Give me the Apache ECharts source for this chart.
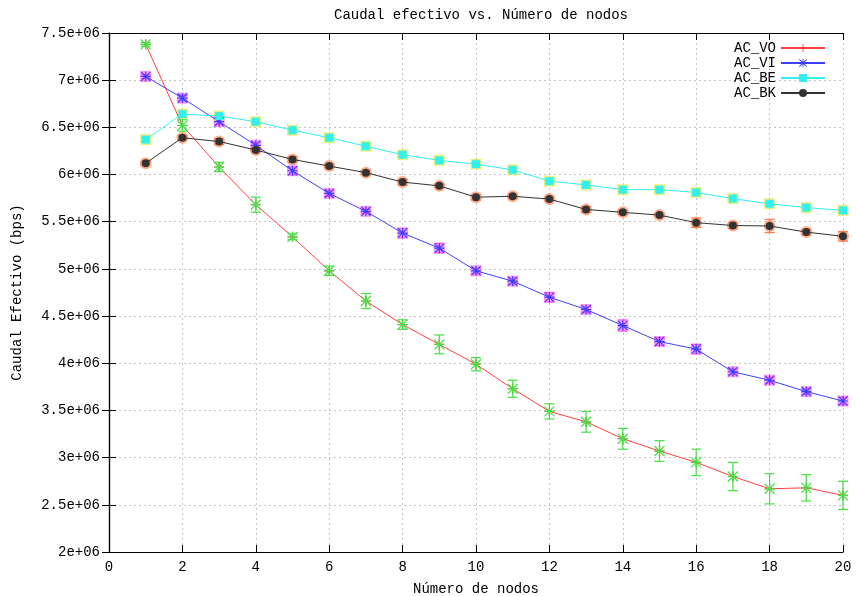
<!DOCTYPE html>
<html>
<head>
<meta charset="utf-8">
<script src="https://cdn.jsdelivr.net/npm/echarts@6/dist/echarts.min.js"></script>
<style>
  html, body { margin: 0; padding: 0; background: #fff; }
  #caudal_chart { width: 857px; height: 596px; }
</style>
</head>
<body>
<div id="caudal_chart"></div>
<script>
// numero de nodos
const nodos = [1, 2, 3, 4, 5, 6, 7, 8, 9, 10, 11, 12, 13, 14, 15, 16, 17, 18, 19, 20];

// caudal efectivo (bps) por categoria de acceso, con su error
const acVO = [7380000, 6520000, 6080000, 5680000, 5340000, 4980000, 4660000, 4410000, 4200000, 3990000,
              3730000, 3490000, 3380000, 3200000, 3070000, 2950000, 2800000, 2670000, 2680000, 2600000];
const acVOErr = [20000, 60000, 50000, 80000, 30000, 50000, 80000, 50000, 100000, 70000,
                 90000, 80000, 110000, 110000, 110000, 140000, 150000, 160000, 140000, 150000];

const acVI = [7040000, 6810000, 6560000, 6310000, 6040000, 5800000, 5610000, 5380000, 5220000, 4980000,
              4870000, 4700000, 4570000, 4400000, 4230000, 4150000, 3910000, 3820000, 3700000, 3600000];
const acVIErr = [20000, 30000, 30000, 30000, 40000, 30000, 20000, 50000, 50000, 30000,
                 30000, 50000, 30000, 60000, 40000, 50000, 30000, 30000, 30000, 40000];

const acBE = [6370000, 6640000, 6620000, 6560000, 6470000, 6390000, 6300000, 6210000, 6150000, 6110000,
              6050000, 5930000, 5890000, 5840000, 5840000, 5810000, 5745000, 5690000, 5650000, 5620000];
const acBEErr = [20000, 30000, 20000, 20000, 20000, 20000, 20000, 20000, 20000, 20000,
                 20000, 20000, 20000, 20000, 20000, 30000, 20000, 20000, 20000, 20000];

const acBK = [6120000, 6390000, 6350000, 6260000, 6160000, 6090000, 6020000, 5920000, 5880000, 5760000,
              5770000, 5740000, 5630000, 5600000, 5570000, 5490000, 5460000, 5455000, 5390000, 5345000];
const acBKErr = [20000, 20000, 30000, 20000, 30000, 20000, 20000, 30000, 20000, 30000,
                 20000, 20000, 30000, 20000, 20000, 50000, 30000, 70000, 30000, 50000];

const FONT = 'Liberation Mono';
const PLUS = 'path://M4.4,0H5.6V10H4.4ZM0,4.4H10V5.6H0Z';
const STAR = 'path://M4.4,0H5.6V10H4.4ZM0,4.4H10V5.6H0ZM0.8,0L10,9.2L9.2,10L0,0.8ZM9.2,0L10,0.8L0.8,10L0,9.2Z';

function pairs(vals, errs) {
  return nodos.map((n, i) => errs ? [n, vals[i], errs[i]] : [n, vals[i]]);
}

// barras de error + punto, como gnuplot "with yerrorbars"
function errorSeries(name, vals, errs, color, mark, z) {
  return {
    name: name + '_err',
    type: 'custom',
    z: z,
    silent: true,
    data: pairs(vals, errs),
    renderItem: function (params, api) {
      const x = api.value(0), y = api.value(1), e = api.value(2);
      const lo = api.coord([x, y - e]);
      const hi = api.coord([x, y + e]);
      const c = api.coord([x, y]);
      const st = { stroke: color, lineWidth: 1.2, fill: null };
      const kids = [
        { type: 'line', shape: { x1: lo[0], y1: lo[1], x2: hi[0], y2: hi[1] }, style: st },
        { type: 'line', shape: { x1: lo[0] - 5, y1: lo[1], x2: lo[0] + 5, y2: lo[1] }, style: st },
        { type: 'line', shape: { x1: hi[0] - 5, y1: hi[1], x2: hi[0] + 5, y2: hi[1] }, style: st }
      ];
      if (mark === 'star') {
        const r = 5;
        kids.push(
          { type: 'line', shape: { x1: c[0] - r, y1: c[1], x2: c[0] + r, y2: c[1] }, style: st },
          { type: 'line', shape: { x1: c[0], y1: c[1] - r, x2: c[0], y2: c[1] + r }, style: st },
          { type: 'line', shape: { x1: c[0] - r, y1: c[1] - r, x2: c[0] + r, y2: c[1] + r }, style: st },
          { type: 'line', shape: { x1: c[0] - r, y1: c[1] + r, x2: c[0] + r, y2: c[1] - r }, style: st }
        );
      } else if (mark === 'square') {
        kids.push({ type: 'rect', shape: { x: c[0] - 5.5, y: c[1] - 5.5, width: 11, height: 11 },
                    style: { fill: color, opacity: 0.6 } });
      } else if (mark === 'circle') {
        kids.push({ type: 'circle', shape: { cx: c[0], cy: c[1], r: 6 },
                    style: { fill: color, opacity: 0.6 } });
      }
      return { type: 'group', children: kids };
    }
  };
}

function lineSeries(name, vals, color, symbol, size, z) {
  return {
    name: name,
    type: 'line',
    z: z,
    data: pairs(vals),
    symbol: symbol,
    symbolSize: size,
    showAllSymbol: true,
    lineStyle: { color: color, width: 1 },
    itemStyle: { color: color },
    emphasis: { disabled: true },
    animation: false
  };
}

const chart = echarts.init(document.getElementById('caudal_chart'));

const axisCommon = {
  type: 'value',
  axisLine: { show: true, lineStyle: { color: '#000', width: 1.2 } },
  axisTick: { show: true, inside: true, length: 7, lineStyle: { color: '#000' } },
  axisLabel: { color: '#000', fontFamily: FONT, fontSize: 14 }
};
const gridLine = { show: true, lineStyle: { color: '#c4c4c4', type: [2, 3], width: 1 } };

chart.setOption({
  animation: false,
  backgroundColor: '#fff',
  title: {
    text: 'Caudal efectivo vs. Número de nodos',
    left: 476,
    textAlign: 'center',
    top: 3,
    textStyle: { fontFamily: FONT, fontSize: 14, fontWeight: 'normal', color: '#000' }
  },
  legend: {
    orient: 'vertical',
    right: 31,
    top: 41,
    padding: 0,
    align: 'right',
    itemWidth: 44,
    itemHeight: 10,
    itemGap: 1,
    selectedMode: false,
    data: ['AC_VO', 'AC_VI', 'AC_BE', 'AC_BK'],
    textStyle: { fontFamily: FONT, fontSize: 14, color: '#000', lineHeight: 14 }
  },
  grid: { left: 109, right: 14, top: 33, bottom: 44, containLabel: false, outerBoundsMode: 'none' },
  xAxis: [
    Object.assign({}, axisCommon, {
      min: 0, max: 20, interval: 2,
      name: 'Número de nodos',
      nameLocation: 'middle',
      nameGap: 30,
      nameTextStyle: { fontFamily: FONT, fontSize: 14, color: '#000' },
      axisLabel: { color: '#000', fontFamily: FONT, fontSize: 14, margin: 8 },
      splitLine: gridLine
    }),
    Object.assign({}, axisCommon, {
      position: 'top', min: 0, max: 20, interval: 2,
      axisLabel: { show: false }, splitLine: { show: false }
    })
  ],
  yAxis: [
    Object.assign({}, axisCommon, {
      min: 2000000, max: 7500000, interval: 500000,
      name: 'Caudal Efectivo (bps)',
      nameLocation: 'middle',
      nameGap: 85,
      nameRotate: 90,
      nameTextStyle: { fontFamily: FONT, fontSize: 14, color: '#000' },
      axisLabel: {
        color: '#000', fontFamily: FONT, fontSize: 14, margin: 9,
        formatter: v => (Math.round(v / 100000) / 10) + 'e+06'
      },
      splitLine: gridLine
    }),
    Object.assign({}, axisCommon, {
      position: 'right', min: 2000000, max: 7500000, interval: 500000,
      axisLabel: { show: false }, splitLine: { show: false }
    })
  ],
  series: [
    lineSeries('AC_VO', acVO, '#ff4040', PLUS, 10, 10),
    errorSeries('AC_VO', acVO, acVOErr, '#44e044', 'star', 11),
    errorSeries('AC_VI', acVI, acVIErr, '#ff55ff', 'square', 3),
    lineSeries('AC_VI', acVI, '#3f3fff', STAR, 10, 12),
    errorSeries('AC_BE', acBE, acBEErr, '#d8e830', 'square', 3),
    lineSeries('AC_BE', acBE, '#33f0f0', 'rect', 8, 12),
    errorSeries('AC_BK', acBK, acBKErr, '#ff7a45', 'circle', 3),
    lineSeries('AC_BK', acBK, '#333333', 'circle', 8, 12)
  ]
});
</script>
</body>
</html>
